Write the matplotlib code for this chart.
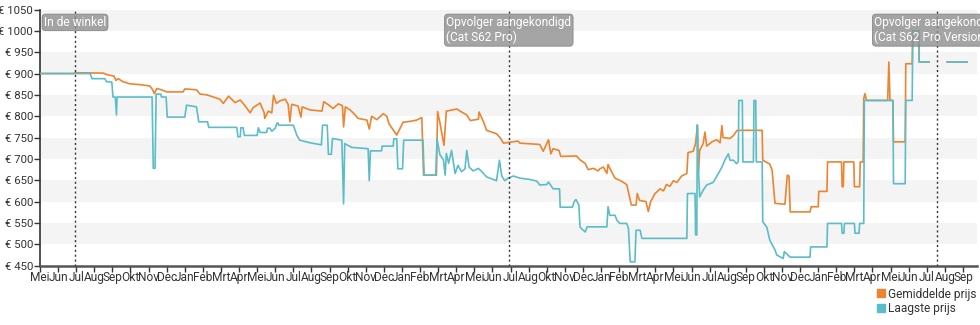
import numpy as np
import pandas as pd
import matplotlib
matplotlib.use('Agg')
import matplotlib.pyplot as plt
import matplotlib.transforms as mtransforms
from matplotlib.lines import Line2D

plt.rcParams['font.family'] = ['Roboto', 'DejaVu Sans']

# dag 0 = eerste tick op de x-as
START = pd.Timestamp('2018-05-17')
EINDE_DAGEN = 1605
nan = np.nan

# (dag, prijs)
gemiddelde = [
    (0, 900), (57, 900), (60, 902), (108, 901), (116, 897), (127, 894), (130, 884), (134, 888),
    (142, 881), (154, 876), (171, 874), (188, 871), (193, 862), (196, 853), (200, 865), (208, 862),
    (217, 857), (245, 857), (248, 864), (268, 862), (274, 852), (286, 850), (297, 845), (308, 840),
    (314, 830), (323, 847), (334, 832), (343, 838), (351, 825), (360, 808), (365, 820), (377, 831),
    (384, 808), (385, 795), (391, 812), (397, 808), (400, 849), (405, 830), (411, 836), (420, 840),
    (425, 828), (428, 787), (431, 828), (442, 824), (447, 798), (449, 822), (462, 815), (483, 812),
    (486, 834), (494, 827), (502, 818), (511, 829), (518, 825), (520, 775), (523, 822), (531, 815),
    (537, 807), (545, 795), (560, 791), (564, 770), (568, 800), (577, 792), (588, 806), (594, 800),
    (598, 782), (611, 756), (622, 786), (634, 788), (645, 791), (654, 797), (657, 662), (679, 662),
    (681, 811), (685, 785), (692, 732), (696, 812), (714, 817), (722, 810), (731, 803), (737, 790),
    (751, 793), (752, 810), (759, 789), (765, 767), (782, 759), (788, 750), (794, 737), (819, 742),
    (822, 737), (856, 734), (862, 718), (871, 745), (875, 712), (879, 724), (889, 720), (892, 706),
    (919, 707), (925, 698), (934, 689), (939, 675), (948, 678), (956, 672), (959, 677), (965, 681),
    (971, 666), (973, 687), (979, 670), (985, 655), (996, 648), (1005, 640), (1013, 592), (1021, 592),
    (1023, 619), (1027, 603), (1038, 600), (1042, 577), (1046, 600), (1053, 618), (1062, 630),
    (1068, 625), (1073, 640), (1079, 636), (1085, 649), (1091, 645), (1099, 660), (1108, 666),
    (1110, 715), (1119, 718), (1123, 737), (1126, 778), (1128, 670), (1130, 720), (1136, 736),
    (1139, 763), (1142, 730), (1151, 740), (1159, 745), (1165, 738), (1168, 778), (1170, 750),
    (1182, 748), (1188, 755), (1194, 767), (1199, 767), (1237, 767), (1238, 697), (1250, 688),
    (1254, 674), (1259, 596), (1276, 594), (1280, 662), (1283, 660), (1285, 576), (1319, 576),
    (1321, 588), (1333, 588), (1334, 624), (1348, 624), (1349, 693), (1373, 693), (1374, 635),
    (1376, 635), (1377, 693), (1394, 693), (1395, 635), (1404, 635), (1405, 693), (1410, 693),
    (1411, 841), (1413, 853), (1416, 837), (1452, 837), (1454, 927), (1456, 837), (1461, 837),
    (1462, 740), (1482, 740), (1483, 923), (1494, 923), (1495, 1000), (1505, 1000), (1506, 927),
    (1523, 927), (1538, nan), (1554, 927), (1588, 927),
]

laagste = [
    (0, 900), (86, 900), (89, 888), (111, 888), (114, 881), (123, 880), (125, 845), (129, 845),
    (131, 803), (132, 845), (192, 845), (194, 678), (197, 678), (199, 852), (207, 852), (208, 845),
    (216, 845), (218, 798), (248, 798), (251, 826), (268, 822), (272, 787), (287, 787), (289, 774),
    (337, 774), (339, 752), (343, 752), (344, 773), (348, 773), (350, 755), (372, 755), (374, 773),
    (377, 762), (388, 762), (390, 772), (394, 772), (397, 765), (403, 772), (406, 784), (408, 784),
    (409, 779), (434, 779), (440, 755), (445, 744), (462, 738), (482, 733), (484, 779), (492, 779),
    (494, 711), (499, 711), (501, 748), (517, 744), (520, 595), (522, 736), (534, 727), (562, 724),
    (564, 649), (566, 719), (585, 719), (586, 730), (605, 730), (606, 747), (611, 747), (613, 677),
    (621, 677), (623, 744), (656, 744), (658, 662), (678, 662), (680, 747), (685, 710), (691, 698),
    (694, 662), (696, 713), (700, 690), (705, 720), (711, 666), (716, 685), (722, 670), (728, 677),
    (731, 720), (735, 681), (742, 672), (751, 678), (759, 667), (765, 658), (782, 649), (787, 697),
    (791, 660), (796, 649), (802, 655), (811, 660), (822, 655), (839, 652), (851, 648), (856, 639),
    (868, 640), (871, 646), (874, 640), (879, 630), (890, 630), (891, 587), (912, 587), (915, 600),
    (918, 605), (923, 592), (925, 541), (928, 536), (934, 529), (937, 541), (971, 541), (973, 588),
    (976, 568), (985, 568), (988, 557), (993, 549), (1005, 549), (1008, 537), (1011, 459),
    (1019, 459), (1021, 533), (1028, 533), (1031, 514), (1108, 514), (1109, 619), (1122, 619),
    (1123, 522), (1125, 522), (1126, 780), (1127, 700), (1130, 611), (1136, 627), (1142, 639),
    (1153, 645), (1162, 666), (1168, 681), (1173, 697), (1179, 712), (1182, 697), (1188, 697),
    (1193, 689), (1196, 693), (1197, 837), (1203, 837), (1204, 693), (1222, 693), (1223, 837),
    (1226, 837), (1227, 693), (1237, 693), (1238, 553), (1245, 540), (1250, 510), (1259, 487),
    (1262, 475), (1273, 467), (1275, 483), (1278, 479), (1285, 470), (1319, 470), (1320, 494),
    (1348, 494), (1349, 549), (1373, 549), (1374, 526), (1377, 526), (1378, 549), (1395, 549),
    (1396, 526), (1403, 526), (1404, 549), (1411, 549), (1412, 837), (1461, 837), (1462, 642),
    (1482, 642), (1483, 837), (1494, 837), (1495, 1000), (1505, 1000), (1506, 927), (1523, 927),
    (1538, nan), (1554, 927), (1588, 927),
]

maanden = ['Mei', 'Jun', 'Jul', 'Aug', 'Sep', 'Okt', 'Nov', 'Dec', 'Jan', 'Feb', 'Mrt', 'Apr',
           'Mei', 'Jun', 'Jul', 'Aug', 'Sep', 'Okt', 'Nov', 'Dec', 'Jan', 'Feb', 'Mrt', 'Apr',
           'Mei', 'Jun', 'Jul', 'Aug', 'Okt', 'Nov', 'Dec', 'Jan', 'Feb', 'Mrt', 'Apr',
           'Mei', 'Jun', 'Jul', 'Aug', 'Sep', 'Okt', 'Nov', 'Dec', 'Jan', 'Feb', 'Mrt', 'Apr',
           'Mei', 'Jun', 'Jul', 'Aug', 'Sep']

gebeurtenis_datum = ['2018-07-16', '2020-07-28', '2022-07-31']
gebeurtenis_tekst = ['In de winkel',
                     'Opvolger aangekondigd\n(Cat S62 Pro)',
                     'Opvolger aangekondigd\n(Cat S62 Pro Version 2)']

y_ticks = list(range(450, 1051, 50))

ORANJE = '#ec8430'
TEAL = '#5bbdc7'
TEKST = '#333333'


def naar_datum(reeks):
    dagen = np.array([p[0] for p in reeks], dtype=float)
    prijzen = np.array([p[1] for p in reeks], dtype=float)
    return START + pd.to_timedelta(dagen, unit='D'), prijzen


fig = plt.figure(figsize=(9.8, 3.25), dpi=100)
ax = fig.add_axes([40 / 980, 1 - 265.7 / 325, 937 / 980, 256.2 / 325])

# lichtgrijze banden
for lo in range(500, 1050, 100):
    ax.axhspan(lo, lo + 50, color='#f4f4f4', lw=0, zorder=0)

x_gem, y_gem = naar_datum(gemiddelde)
x_laag, y_laag = naar_datum(laagste)
ax.plot(x_gem, y_gem, color=ORANJE, lw=1.2, zorder=3)
ax.plot(x_laag, y_laag, color=TEAL, lw=1.2, zorder=4)

trans = mtransforms.blended_transform_factory(ax.transData, ax.transAxes)
for datum, tekst in zip(gebeurtenis_datum, gebeurtenis_tekst):
    d = pd.Timestamp(datum)
    ax.axvline(d, color=TEKST, lw=1, ls=(0, (1.5, 2)), zorder=5)
    ax.text(d, 0.975, tekst, transform=trans, ha='center', va='top', multialignment='left',
            color='white', fontsize=8.6, zorder=6,
            bbox=dict(boxstyle='round,pad=0.15,rounding_size=0.3', fc='#8f8f8f', ec='#7a7a7a',
                      lw=0.6, alpha=0.8))

ax.set_ylim(450, 1050)
ax.set_xlim(START, START + pd.Timedelta(days=EINDE_DAGEN))
ax.set_yticks(y_ticks)
ax.set_yticklabels(['€ %d' % v for v in y_ticks])
ax.set_xticks([START + pd.Timedelta(days=31 * k) for k in range(len(maanden))])
ax.set_xticklabels(maanden)

ax.tick_params(axis='y', length=4, width=1, color=TEKST, labelsize=8.2, labelcolor=TEKST, pad=1)
ax.tick_params(axis='x', length=4, width=1, color=TEKST, labelsize=8.6, labelcolor=TEKST, pad=0)
for s in ['top', 'right']:
    ax.spines[s].set_visible(False)
ax.spines['left'].set_color(TEKST)
ax.spines['left'].set_linewidth(1.2)
ax.spines['bottom'].set_color('#555555')
ax.spines['bottom'].set_linewidth(1.8)

handles = [Line2D([], [], marker='s', ls='', color=ORANJE, markersize=6),
           Line2D([], [], marker='s', ls='', color=TEAL, markersize=6)]
fig.legend(handles, ['Gemiddelde prijs', 'Laagste prijs'], loc='upper right',
           bbox_to_anchor=(0.996, 0.115), frameon=False, fontsize=8.6, labelcolor=TEKST,
           handlelength=0.6, handletextpad=0.25, labelspacing=0.1, borderpad=0, borderaxespad=0)

fig.savefig('out.png', dpi=100)
